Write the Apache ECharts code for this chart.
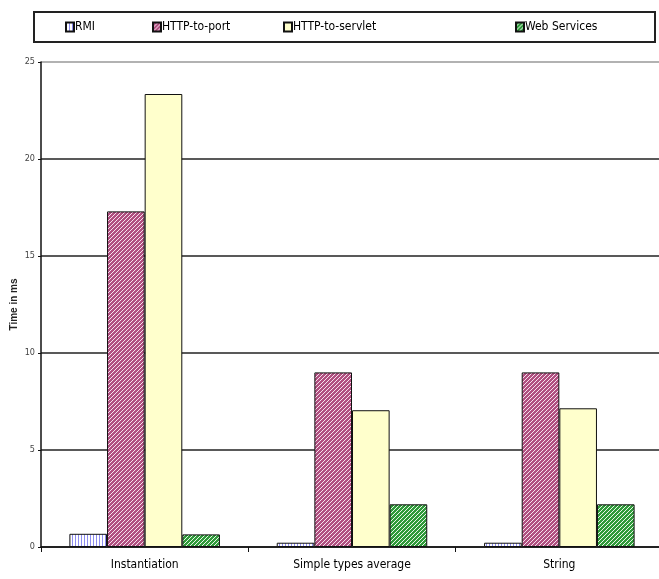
<!DOCTYPE html>
<html>
<head>
<meta charset="utf-8">
<script src="https://cdn.jsdelivr.net/npm/echarts@6/dist/echarts.min.js"></script>
<style>
  html, body { margin: 0; padding: 0; background: #fff; }
  #chart { width: 659px; height: 579px; }
</style>
</head>
<body>
<div id="chart"></div>
<script>
// Invocation timing per mechanism (milliseconds)
const categories = ['Instantiation', 'Simple types average', 'String'];
const seriesNames = ['RMI', 'HTTP-to-port', 'HTTP-to-servlet', 'Web Services'];
const rmi = [0.68, 0.22, 0.22];
const httpToPort = [17.3, 9.0, 9.0];
const httpToServlet = [23.35, 7.05, 7.15];
const webServices = [0.65, 2.2, 2.2];
const yTicks = [0, 5, 10, 15, 20, 25];

// Small tiled fills for the hatched bars
function makeTile(size, draw) {
  const c = document.createElement('canvas');
  c.width = size; c.height = size;
  const g = c.getContext('2d');
  draw(g, size);
  return { image: c, repeat: 'repeat' };
}

const rmiFill = makeTile(3, (g, s) => {
  g.fillStyle = '#ffffff'; g.fillRect(0, 0, s, s);
  g.fillStyle = '#8c8cf0'; g.fillRect(0, 0, 1, s);
});

const portFill = makeTile(4, (g, s) => {
  g.fillStyle = '#b04f80'; g.fillRect(0, 0, s, s);
  g.fillStyle = '#f6e0ec';
  for (let i = 0; i < s; i++) g.fillRect((s - i) % s, i, 1, 1);
});

const wsFill = makeTile(4, (g, s) => {
  g.fillStyle = '#2f9a3a'; g.fillRect(0, 0, s, s);
  g.fillStyle = '#e8f6e8';
  for (let i = 0; i < s; i++) g.fillRect((s - 1 - i) % s, i, 1, 1);
});

const fills = [rmiFill, portFill, '#ffffcc', wsFill];
const values = [rmi, httpToPort, httpToServlet, webServices];

const textFont = "'DejaVu Sans Condensed', 'Liberation Sans Narrow', 'Arial Narrow', 'Liberation Sans', sans-serif";

const chart = echarts.init(document.getElementById('chart'), null, { renderer: 'canvas' });

// One legend entry per component so each can sit at its own spot in the box
const legendLefts = [65, 152, 283, 515];
const legends = seriesNames.map((name, i) => ({
  data: [name],
  left: legendLefts[i],
  top: 21,
  padding: 0,
  icon: 'rect',
  itemWidth: 8,
  itemHeight: 9,
  itemGap: 0,
  selectedMode: false,
  textStyle: { fontFamily: textFont, fontSize: 12, color: '#000', padding: [0, 0, 0, -4] }
}));

chart.setOption({
  animation: false,
  backgroundColor: '#ffffff',
  legend: legends,
  graphic: [{
    type: 'rect',
    shape: { x: 34, y: 12, width: 621, height: 30 },
    style: { fill: 'none', stroke: '#222', lineWidth: 2 },
    z: 100
  }],
  grid: { left: 41, top: 62, width: 622, height: 485, outerBoundsMode: 'none', containLabel: false },
  xAxis: {
    type: 'category',
    data: categories,
    axisLine: { lineStyle: { color: '#111', width: 1.5 } },
    axisTick: { show: true, length: 5, lineStyle: { color: '#111' } },
    axisLabel: { fontFamily: textFont, fontSize: 12, color: '#000', margin: 12 }
  },
  yAxis: {
    type: 'value',
    min: 0,
    max: 25,
    interval: 5,
    name: 'Time in ms',
    nameLocation: 'middle',
    nameRotate: 90,
    nameGap: 22,
    nameMoveOverlap: false,
    nameTextStyle: { fontFamily: 'Liberation Sans, Arial, sans-serif', fontSize: 10, fontWeight: 'bold', color: '#222' },
    axisLine: { show: true, lineStyle: { color: '#111', width: 1.5 } },
    axisTick: { show: true, length: 3, lineStyle: { color: '#111' } },
    axisLabel: {
      fontFamily: textFont, fontSize: 9, color: '#444', margin: 6,
      formatter: v => yTicks.includes(v) ? String(v) : ''
    },
    splitLine: {
      show: true,
      lineStyle: { color: ['#222', '#222', '#222', '#222', '#222', '#999'], width: 1.5 }
    }
  },
  series: seriesNames.map((name, i) => ({
    name,
    type: 'bar',
    data: values[i],
    barGap: '0%',
    barCategoryGap: '27.4%',
    itemStyle: { color: fills[i], borderColor: '#111', borderWidth: 1 }
  }))
});
</script>
</body>
</html>
